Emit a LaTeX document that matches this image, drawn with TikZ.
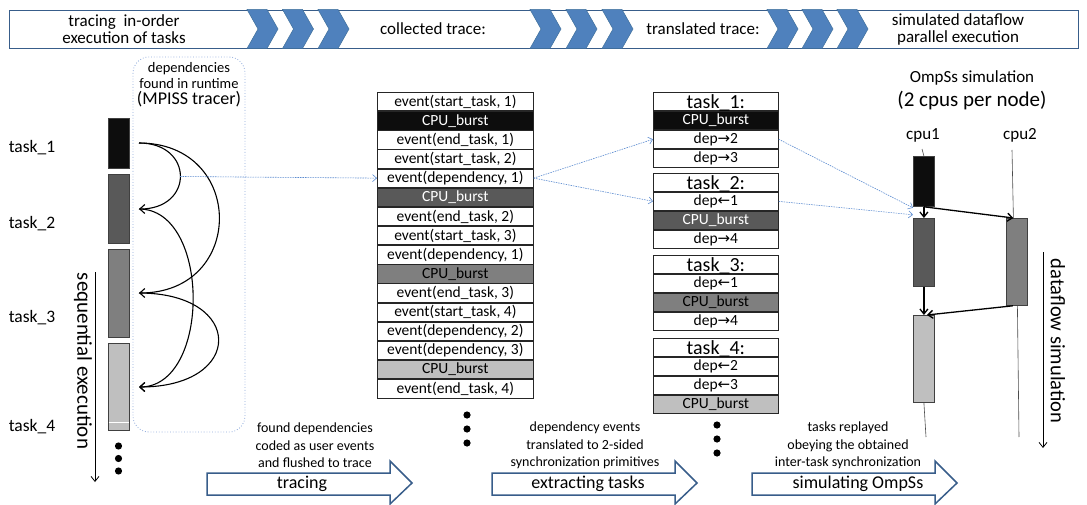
\documentclass[tikz,border=0pt]{standalone}
\usepackage{fontspec}
\setmainfont{Carlito}
\newfontfamily\symf{DejaVu Sans}
\usetikzlibrary{arrows.meta}
\definecolor{chev}{HTML}{4F81BD}
\definecolor{chevline}{HTML}{41719C}
\definecolor{borderblue}{HTML}{385D8A}
\definecolor{dotblue}{HTML}{5B8BD0}
\definecolor{boxdot}{HTML}{8EA9DB}
\definecolor{gA}{HTML}{0D0D0D}
\definecolor{gB}{HTML}{595959}
\definecolor{gC}{HTML}{7F7F7F}
\definecolor{gD}{HTML}{BFBFBF}
\newcommand{\ra}{{\symf\fontsize{15}{15}\selectfont →}}
\newcommand{\la}{{\symf\fontsize{15}{15}\selectfont ←}}
\newcommand{\thead}[1]{\raisebox{-7.2pt}[0pt][0pt]{#1}}
\begin{document}
\begin{tikzpicture}[x=1pt,y=-1pt,
  evrow/.style={draw=black!85, line width=0.7pt, minimum width=156pt, minimum height=18.44pt, inner sep=0pt, anchor=north west, font=\fontsize{15.5}{16}\selectfont},
  tkrow/.style={draw=black!85, fill=white, line width=0.7pt, minimum width=125pt, minimum height=18.2pt, inner sep=0pt, anchor=north west, font=\fontsize{15.5}{16}\selectfont},
  tkhead/.style={tkrow, font=\fontsize{20}{20}\selectfont},
  bar/.style={draw=black!75, line width=0.8pt, inner sep=0pt, minimum width=21pt},
  curvarrow/.style={line width=1.1pt, -{Straight Barb[length=5pt,width=9pt,line width=1.1pt]}},
  simarrow/.style={line width=1.3pt, -{Straight Barb[length=5pt,width=8pt,line width=1.3pt]}},
  bluedot/.style={dotblue, line width=0.6pt, dash pattern=on 1.5pt off 1pt, -{Straight Barb[length=4pt,width=7pt,line width=0.6pt]}},
  blockarrow/.style={draw=borderblue, line width=1.5pt, fill=white, line join=miter},
  longarrow/.style={line width=0.8pt, -{Straight Barb[length=5pt,width=8pt,line width=0.8pt]}},
]
\useasboundingbox (0,0) rectangle (1087,505);

% ---------- top banner ----------
\node[draw=borderblue, line width=1.3pt, minimum width=1069pt, minimum height=38pt, inner sep=0pt, anchor=north west] (banner) at (9,10) {};
\foreach \x in {247,282.5,318, 530,566,602, 767,802,837}{
  \fill[chev, draw=chevline, line width=0.5pt] (\x,9.5) -- (\x+20,9.5) -- (\x+31,29) -- (\x+20,48.5) -- (\x,48.5) -- (\x+11,29) -- cycle;
}
\node[align=center, font=\fontsize{17}{17}\selectfont] (b1) at (124,29) {tracing\ \ in-order\\execution of tasks};
\node[font=\fontsize{17}{17}\selectfont] (b2) at (433,29) {collected trace:};
\node[font=\fontsize{17}{17}\selectfont] (b3) at (703,29) {translated trace:};
\node[align=center, font=\fontsize{17}{17}\selectfont] (b4) at (958,29) {simulated dataflow\\parallel execution};

% ---------- left: sequential tasks ----------
\node[font=\fontsize{17.5}{18}\selectfont] (l1) at (32,148) {task\_1};
\node[font=\fontsize{17.5}{18}\selectfont] (l2) at (32,224) {task\_2};
\node[font=\fontsize{17.5}{18}\selectfont] (l3) at (32,318) {task\_3};
\node[font=\fontsize{17.5}{18}\selectfont] (l4) at (32,427) {task\_4};

\node[bar, fill=gA, minimum height=50pt, anchor=north west] (s1) at (108,118) {};
\node[bar, fill=gB, minimum height=69pt, anchor=north west] (s2) at (108,174) {};
\node[bar, fill=gC, minimum height=88pt, anchor=north west] (s3) at (108,249) {};
\node[bar, fill=gD, minimum height=87pt, anchor=north west] (s4) at (108,343) {};
\draw[white, line width=0.9pt] ([xshift=0.5pt,yshift=8pt]s4.south west) -- ([xshift=-0.5pt,yshift=8pt]s4.south east);
\foreach \y in {446,458.5,471} \fill (118.5,\y) circle (3.6);

\coordinate (seqtop) at (95,272);
\coordinate (seqbot) at (95,482);
\draw[longarrow] (seqtop) -- (seqbot);
\node[rotate=-90, font=\fontsize{21}{21}\selectfont] (seqlab) at (83,361) {sequential execution};

% dotted box
\draw[boxdot, dotted, line width=0.8pt, rounded corners=16pt] (133,57) rectangle (245,432);
\node[align=center, font=\fontsize{14.5}{15.5}\selectfont] (deplab) at (189,75.5) {dependencies\\found in runtime};
\node[font=\fontsize{18}{18}\selectfont] (mpiss) at (189,99) {(MPISS tracer)};

\coordinate (p1) at (139,143);
\coordinate (p2) at (139,209);
\coordinate (p3) at (139,293);
\coordinate (p4) at (139,387);
\draw[curvarrow] (p1) .. controls (194,143) and (194,209) .. (p2);
\draw[curvarrow] (p1) .. controls (246,143) and (246,293) .. (p3);
\draw[curvarrow] (p2) .. controls (211,209) and (211,387) .. (p4);
\draw[curvarrow] (p3) .. controls (245,293) and (245,387) .. (p4);
\coordinate (dsrc) at (180,176.5);

% ---------- event list ----------
\node[evrow] (ev1) at (377,92) {event(start\_task, 1)};
\node[evrow, fill=gA, text=white] (ev2) at (ev1.south west) {CPU\_burst};
\node[evrow] (ev3) at (ev2.south west) {event(end\_task, 1)};
\node[evrow] (ev4) at (ev3.south west) {event(start\_task, 2)};
\node[evrow] (ev5) at (ev4.south west) {event(dependency, 1)};
\node[evrow, fill=gB, text=white] (ev6) at (ev5.south west) {CPU\_burst};
\node[evrow] (ev7) at (ev6.south west) {event(end\_task, 2)};
\node[evrow] (ev8) at (ev7.south west) {event(start\_task, 3)};
\node[evrow] (ev9) at (ev8.south west) {event(dependency, 1)};
\node[evrow, fill=gC] (ev10) at (ev9.south west) {CPU\_burst};
\node[evrow] (ev11) at (ev10.south west) {event(end\_task, 3)};
\node[evrow] (ev12) at (ev11.south west) {event(start\_task, 4)};
\node[evrow] (ev13) at (ev12.south west) {event(dependency, 2)};
\node[evrow] (ev14) at (ev13.south west) {event(dependency, 3)};
\node[evrow, fill=gD] (ev15) at (ev14.south west) {CPU\_burst};
\node[evrow] (ev16) at (ev15.south west) {event(end\_task, 4)};
\foreach \y in {415,429,443} \fill (467,\y) circle (3.6);

% ---------- task boxes ----------
\node[tkhead] (t1h) at (653,92) {\thead{task\_1:}};
\node[tkrow, fill=gA, text=white] (t1a) at (t1h.south west) {CPU\_burst};
\node[tkrow] (t1b) at (t1a.south west) {dep\ra2};
\node[tkrow] (t1c) at (t1b.south west) {dep\ra3};

\node[tkhead] (t2h) at (653,173) {\thead{task\_2:}};
\node[tkrow] (t2a) at (t2h.south west) {dep\la1};
\node[tkrow, fill=gB, text=white] (t2b) at (t2a.south west) {CPU\_burst};
\node[tkrow] (t2c) at (t2b.south west) {dep\ra4};

\node[tkhead] (t3h) at (653,255) {\thead{task\_3:}};
\node[tkrow] (t3a) at (t3h.south west) {dep\la1};
\node[tkrow, fill=gC] (t3b) at (t3a.south west) {CPU\_burst};
\node[tkrow] (t3c) at (t3b.south west) {dep\ra4};

\node[tkhead] (t4h) at (653,338) {\thead{task\_4:}};
\node[tkrow] (t4a) at (t4h.south west) {dep\la2};
\node[tkrow] (t4b) at (t4a.south west) {dep\la3};
\node[tkrow, fill=gD] (t4c) at (t4b.south west) {CPU\_burst};
\foreach \y in {425,439,453} \fill (717,\y) circle (3.6);

% ---------- simulation ----------
\node[font=\fontsize{17}{17}\selectfont] (omp) at (972,78) {OmpSs simulation};
\node[font=\fontsize{21}{21}\selectfont] (cpn) at (972,101) {(2 cpus per node)};
\node[font=\fontsize{17}{17}\selectfont] (cpu1) at (923,135) {cpu1};
\node[font=\fontsize{17}{17}\selectfont] (cpu2) at (1020,135) {cpu2};

\node[bar, fill=gA, minimum height=50pt, anchor=north west] (c1a) at (913,156) {};
\node[bar, fill=gB, minimum height=68pt, anchor=north west] (c1b) at (913,218) {};
\node[bar, fill=gD, minimum height=87pt, anchor=north west] (c1c) at (913,315) {};
\node[bar, fill=gC, minimum height=87pt, anchor=north west] (c2a) at (1006,218) {};

\coordinate (cpu1top) at (922,149);
\coordinate (cpu2top) at (1012,150);
\coordinate (cpu1end) at (926,437);
\coordinate (cpu2end) at (1019,437);
\draw[black!70, line width=0.6pt] (cpu1top) -- (c1a.north);
\draw[black!70, line width=0.6pt] (cpu2top) -- ([xshift=-3.5pt]c2a.north);
\draw[black!70, line width=0.6pt] (c1c.south) -- (cpu1end);
\draw[black!70, line width=0.6pt] ([xshift=0.5pt]c2a.south) -- (cpu2end);

\draw[simarrow] (c1a.south) -- (c1b.north);
\draw[simarrow] (c1a.south) -- ([xshift=-3.5pt]c2a.north);
\draw[simarrow] (c1b.south) -- (c1c.north);
\draw[simarrow] ([xshift=-4pt]c2a.south) -- ([xshift=3pt]c1c.north);

\coordinate (dftop) at (1043,252);
\coordinate (dfbot) at (1043,448);
\draw[longarrow] (dftop) -- (dfbot);
\node[rotate=-90, font=\fontsize{20.5}{21}\selectfont] (dflab) at (1058,341) {dataflow simulation};

% ---------- blue dotted connectors ----------
\draw[bluedot] (dsrc) -- (ev5.west);
\draw[bluedot] (ev5.east) -- (t1b.west);
\draw[bluedot] (ev5.east) -- (t2a.west);
\draw[bluedot] (t1b.east) -- ([yshift=-1pt]c1a.south west);
\draw[bluedot] (t2a.east) -- ([yshift=-8pt]c1a.south west);

% ---------- bottom block arrows ----------
\draw[blockarrow] (207,473) -- (390,473) -- (390,461) -- (412,483) -- (390,504) -- (390,495) -- (207,495) -- cycle;
\draw[blockarrow] (492,473) -- (675,473) -- (675,461) -- (697,483) -- (675,504) -- (675,495) -- (492,495) -- cycle;
\draw[blockarrow] (752,473) -- (935,473) -- (935,461) -- (957,483) -- (935,504) -- (935,495) -- (752,495) -- cycle;
\node[font=\fontsize{18}{18}\selectfont] (a1) at (302,484) {tracing};
\node[font=\fontsize{18}{18}\selectfont] (a2) at (588,484) {extracting tasks};
\node[font=\fontsize{18}{18}\selectfont] (a3) at (858,484) {simulating OmpSs};
\node[align=center, font=\fontsize{14}{17.5}\selectfont] (d1) at (315,445.5) {found dependencies\\coded as user events\\and flushed to trace};
\node[align=center, font=\fontsize{14}{17.5}\selectfont] (d2) at (585,445.5) {dependency events\\translated to 2-sided\\synchronization primitives};
\node[align=center, font=\fontsize{14}{17.5}\selectfont] (d3) at (848,445.5) {tasks replayed\\obeying the obtained\\inter-task synchronization};
\end{tikzpicture}
\end{document}
